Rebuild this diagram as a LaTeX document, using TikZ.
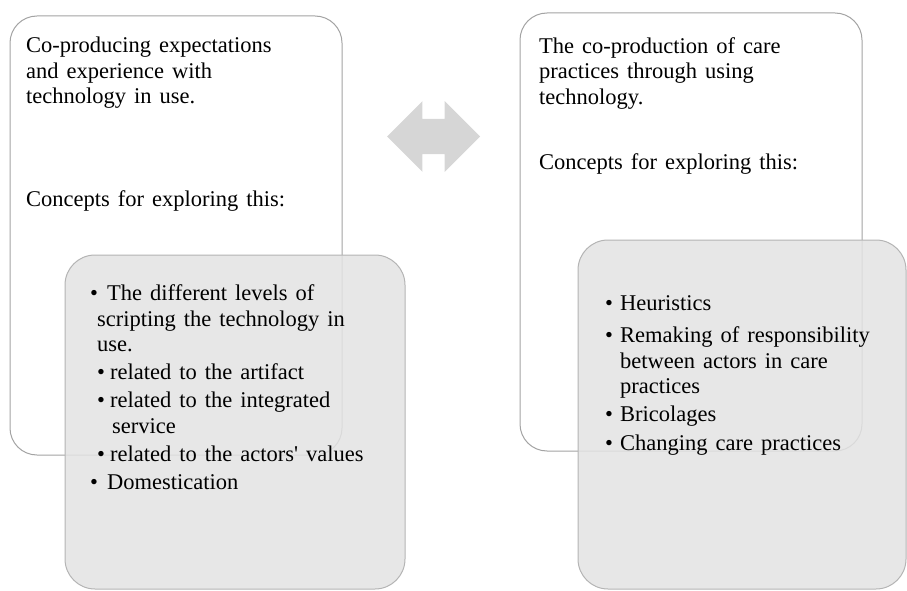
\documentclass[tikz,border=0pt]{standalone}
\usepackage{fontspec}
\setmainfont{Liberation Serif}
\usepackage{tikz}
\usetikzlibrary{positioning,shapes.arrows}
\definecolor{boxline}{HTML}{A3A3A3}
\definecolor{greyline}{HTML}{B4B4B4}
\definecolor{greyfill}{HTML}{E3E3E3}
\definecolor{arrowgrey}{HTML}{D6D6D6}
\newcommand{\boxfont}{\fontsize{22.5}{25.5}\selectfont\spaceskip 8pt\relax}
\newcommand{\bul}{\makebox[17pt][l]{\textbullet}}
\newcommand{\subbul}{\hspace*{7pt}\makebox[13pt][l]{\textbullet}}
\newcommand{\rbul}{\makebox[15pt][l]{\textbullet}}

\begin{document}
\begin{tikzpicture}[x=1pt,y=1pt,% everything in pixels of the reference
			every node/.style={
				inner sep=0pt,
				font=\boxfont
			},
			wbox/.style={rectangle,rounded corners=27pt,draw=boxline,line width=1pt,fill=white},
			gbox/.style={rectangle,rounded corners=30pt,draw=greyline,line width=1pt,fill=greyfill,fill opacity=0.85},
			txt/.style={align=left,anchor=north west}	% top of first line at the given point
		]
		\useasboundingbox (0,0) rectangle (907,590);
		% the two white boxes
		\node[wbox,minimum width=332,minimum height=439](wbL) at (176,354.5){};
		\node[wbox,minimum width=342,minimum height=438](wbR) at (691,358){};
		% the grey boxes lie over them
		\node[gbox,minimum width=340,minimum height=334](gbL) at (235,168){};
		\node[gbox,minimum width=328,minimum height=349](gbR) at (742,175.5){};
		% the arrow between
		\node[double arrow,fill=arrowgrey,inner xsep=0pt,inner ysep=17.5pt,minimum height=93,
			double arrow head extend=17.75pt](arr) at (433.5,453.5){};
		% texts
		\node[txt](tL) at (26,553){Co-producing expectations\\ and experience with\\ technology in use.};
		\node[anchor=base west](cL) at (26,383){Concepts for exploring this:};
		\node[txt](lL) at (90,305.5){\bul The different levels of\\
			\hspace*{7pt}scripting the technology in\\
			\hspace*{7pt}use.\\[2.5pt]
			\subbul related to the artifact\\[2.5pt]
			\subbul related to the integrated\\
			\hspace*{22pt}service\\[2.5pt]
			\subbul related to the actors\textquotesingle\ values\\[2.5pt]
			\bul Domestication};
		\node[txt](tR) at (539,553){The co-production of care\\ practices through using\\ technology.};
		\node[anchor=base west](cR) at (539,420){Concepts for exploring this:};
		\node[txt](lR) at (605,294.5){\rbul Heuristics\\[6.5pt]
			\rbul Remaking of responsibility\\
			\hspace*{15pt}between actors in care\\
			\hspace*{15pt}practices\\[2.5pt]
			\rbul Bricolages\\[3.5pt]
			\rbul Changing care practices};
	\end{tikzpicture}
\end{document}
